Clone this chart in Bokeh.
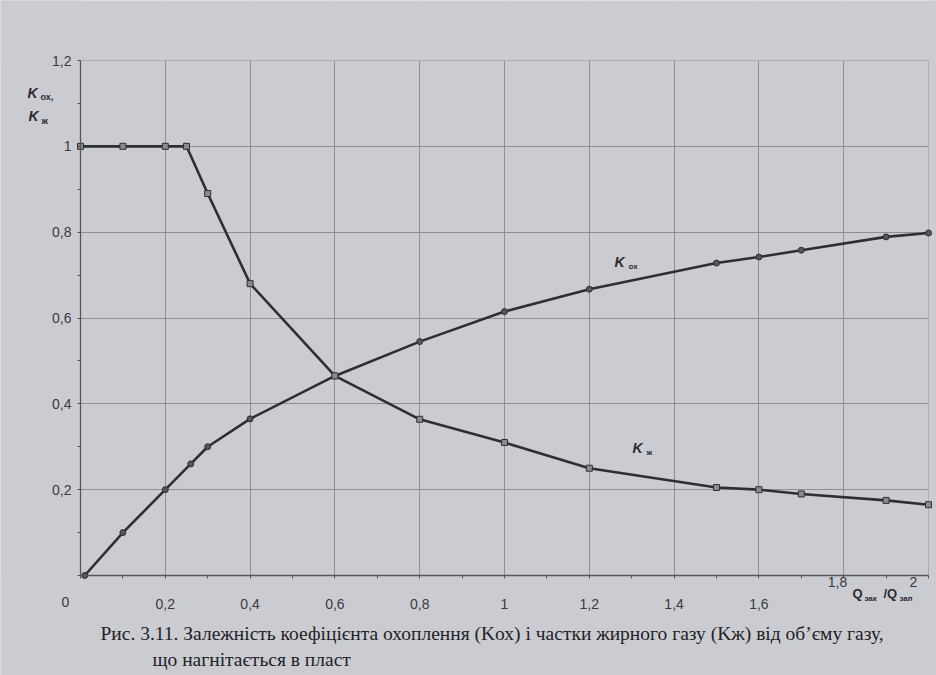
from bokeh.plotting import figure
from bokeh.models import Label, FixedTicker, LinearAxis, BoxAnnotation, Grid
from bokeh.embed import file_html
from bokeh.resources import INLINE

# ---- data ----
x_ox = [0.01, 0.1, 0.2, 0.26, 0.3, 0.4, 0.6, 0.8, 1.0, 1.2, 1.5, 1.6, 1.7, 1.9, 2.0]
k_ox = [0.0, 0.1, 0.2, 0.26, 0.3, 0.365, 0.465, 0.545, 0.615, 0.667, 0.728, 0.742, 0.758, 0.789, 0.798]

x_zh = [0.0, 0.1, 0.2, 0.25, 0.3, 0.4, 0.6, 0.8, 1.0, 1.2, 1.5, 1.6, 1.7, 1.9, 2.0]
k_zh = [1.0, 1.0, 1.0, 1.0, 0.89, 0.68, 0.465, 0.364, 0.31, 0.25, 0.205, 0.2, 0.19, 0.175, 0.165]

x_ticks = [0, 0.2, 0.4, 0.6, 0.8, 1.0, 1.2, 1.4, 1.6, 1.8, 2.0]
x_tick_labels = ["", "0,2", "0,4", "0,6", "0,8", "1", "1,2", "1,4", "1,6", "", ""]
x_minor = [0.1, 0.3, 0.5, 0.7, 0.9, 1.1, 1.3, 1.5, 1.7, 1.9]
y_ticks = [0, 0.2, 0.4, 0.6, 0.8, 1.0, 1.2]
y_tick_labels = ["", "0,2", "0,4", "0,6", "0,8", "1", "1,2"]
y_minor = [0.1, 0.3, 0.5, 0.7, 0.9, 1.1]

caption1 = "Рис. 3.11. Залежність коефіцієнта охоплення (Kох) і частки жирного газу (Kж) від об’єму газу,"
caption2 = "що нагнітається в пласт"

# ---- geometry: the frame fills the canvas, the data box sits inside it ----
W, H = 936, 675
L, R, T, B = 80, 8, 60, 100          # margins of the data box in pixels
XMIN, XMAX, YMIN, YMAX = 0.0, 2.0, 0.0, 1.2
sx = (W - L - R) / (XMAX - XMIN)
sy = (H - T - B) / (YMAX - YMIN)
x_range = (XMIN - L / sx, XMAX + R / sx)
y_range = (YMIN - B / sy, YMAX + T / sy)

BG = "#cbccd2"
GRID = "#8e8f95"
INK = "#2e2e33"
AX = "#55565b"

p = figure(width=W, height=H, x_range=x_range, y_range=y_range,
           output_backend="svg", toolbar_location=None,
           x_axis_type=None, y_axis_type=None, min_border=0)
p.background_fill_color = BG
p.border_fill_color = BG
p.outline_line_color = None

# grid lines (masked outside the data box below)
for dim, ticks in ((0, x_ticks), (1, y_ticks)):
    p.add_layout(Grid(dimension=dim, ticker=FixedTicker(ticks=ticks),
                      grid_line_color=GRID, grid_line_width=1))
for kw in (dict(right=XMIN), dict(left=XMAX), dict(top=YMIN), dict(bottom=YMAX)):
    p.add_layout(BoxAnnotation(fill_color=BG, fill_alpha=1.0, line_color=None,
                               level="underlay", **kw))

xaxis = LinearAxis(fixed_location=0, bounds=(XMIN, XMAX),
                   ticker=FixedTicker(ticks=x_ticks, minor_ticks=x_minor))
yaxis = LinearAxis(fixed_location=0, bounds=(YMIN, YMAX),
                   ticker=FixedTicker(ticks=y_ticks, minor_ticks=y_minor))
xaxis.major_label_overrides = {t: s for t, s in zip(x_ticks, x_tick_labels)}
yaxis.major_label_overrides = {t: s for t, s in zip(y_ticks, y_tick_labels)}
for ax in (xaxis, yaxis):
    ax.axis_line_color = AX
    ax.axis_line_width = 1.3
    ax.major_tick_line_color = AX
    ax.minor_tick_line_color = AX
    ax.major_tick_in = 0
    ax.major_tick_out = 3
    ax.minor_tick_in = 0
    ax.minor_tick_out = 3
    ax.major_label_text_font = "Liberation Sans"
    ax.major_label_text_font_size = "14px"
    ax.major_label_text_color = "#3a3a3f"
xaxis.major_label_standoff = 20
yaxis.major_label_standoff = 6
p.add_layout(xaxis, "below")
p.add_layout(yaxis, "left")

# ---- curves ----
p.line(x_ox, k_ox, line_color=INK, line_width=2.6)
p.scatter(x_ox, k_ox, marker="circle", size=6, fill_color=AX, line_color=INK, line_width=1)
p.line(x_zh, k_zh, line_color=INK, line_width=2.6)
p.scatter(x_zh, k_zh, marker="square", size=6, fill_color="#8a8b90", line_color=INK, line_width=1)

# ---- texts (placed by pixel position on the page) ----
def lab(text, px, py, size, style="bold", font="Liberation Sans", color="#2a2a2f", align="left"):
    p.add_layout(Label(x=px, y=H - py, x_units="screen", y_units="screen", text=text,
                       text_font=font, text_font_size=f"{size}px", text_font_style=style,
                       text_color=color, text_align=align, text_baseline="middle"))

lab("0", 65, 601, 14, style="normal", color="#3a3a3f", align="center")
lab("1,8", 837, 581, 14, style="normal", color="#3a3a3f", align="center")
lab("2", 913, 581, 14, style="normal", color="#3a3a3f", align="center")
lab("Q", 852, 593, 13)
lab("зак", 864, 598, 8)
lab("/Q", 883, 593, 13)
lab("зап", 899, 598, 8)
lab("K", 27, 92, 14, style="bold italic")
lab("ох,", 40, 96, 9)
lab("K", 28, 115, 14, style="bold italic")
lab("ж", 41, 120, 9)
lab("K", 614, 261, 14, style="bold italic")
lab("ох", 628, 266, 8)
lab("K", 632, 447, 14, style="bold italic")
lab("ж", 646, 452, 8)
lab(caption1, 100, 633, 19.5, style="normal", font="Liberation Serif", color="#222226")
lab(caption2, 152, 659, 19.5, style="normal", font="Liberation Serif", color="#222226")

open("out.html", "w").write(file_html(p, INLINE))
